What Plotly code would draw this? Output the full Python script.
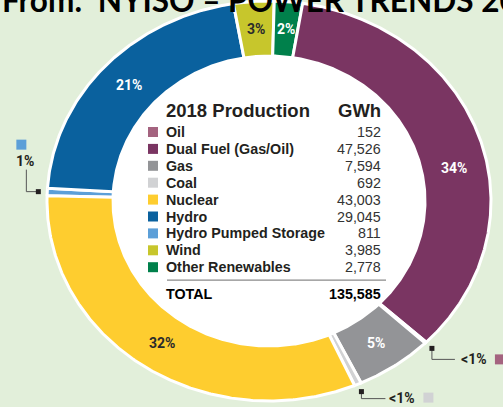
import numpy as np
import plotly.graph_objects as go

# ---------------- data ----------------
categories = ["Oil", "Dual Fuel (Gas/Oil)", "Gas", "Coal", "Nuclear", "Hydro",
              "Hydro Pumped Storage", "Wind", "Other Renewables"]
gwh = [152, 47526, 7594, 692, 43003, 29045, 811, 3985, 2778]
pct_labels = ["<1%", "34%", "5%", "<1%", "32%", "21%", "1%", "3%", "2%"]
ring_order = ["Hydro Pumped Storage", "Hydro", "Wind", "Other Renewables",
              "Dual Fuel (Gas/Oil)", "Oil", "Gas", "Coal", "Nuclear"]
callout_categories = ["Oil", "Coal", "Hydro Pumped Storage"]
table_header = ["2018 Production", "GWh"]
total_label = "TOTAL"
total_gwh = 135585
title_text = "From:\u00a0 NYISO \u2013 POWER TRENDS 2018"

# ---------------- style ----------------
colors = {
    "Oil": "#a4637f", "Dual Fuel (Gas/Oil)": "#7a3562", "Gas": "#939497",
    "Coal": "#d1d2d4", "Nuclear": "#fecd2f", "Hydro": "#0a619e",
    "Hydro Pumped Storage": "#5c9fd8", "Wind": "#c7c62c",
    "Other Renewables": "#00804b",
}
label_colors = {"Nuclear": "#2b2b2b", "Wind": "#2b2b2b"}
label_shift = {"Dual Fuel (Gas/Oil)": 7}
label_radius = {"Wind": 1.0, "Other Renewables": 1.0}
BG = "#e2efda"
INK = "#231f20"
TFONT = "Liberation Sans"
W, H = 503, 407
CX, CY = 269, 201
RXO, RYO = 222, 200
RXI, RYI = 156, 145
START = 271.5
callout_style = {
    "Oil": dict(path=[(0, 0), (0, 11), (23, 11)], text=(28, 11, "left"), sw=(68, 11)),
    "Coal": dict(path=[(0, 0), (0, 7), (24, 7)], text=(27, 6, "left"), sw=(67, 6)),
    "Hydro Pumped Storage": dict(path=[(0, 0), (-12, 0), (-12, -22)], text=(-13, -31, "center"), sw=(-17, -47)),
}

total = sum(gwh)
val = dict(zip(categories, gwh))
pct = dict(zip(categories, pct_labels))

def ell(theta, rx, ry):
    t = np.radians(theta)
    return CX + rx * np.sin(t), CY - ry * np.cos(t)

fig = go.Figure()

t = np.linspace(0, 360, 361)
hx, hy = ell(t, RXO, RYO)
fig.add_trace(go.Scatter(x=hx, y=hy, fill="toself", fillcolor="white",
                         line=dict(color="white", width=0), mode="lines",
                         hoverinfo="skip", showlegend=False))

angles = {}
a = START
for cat in ring_order:
    span = 360.0 * val[cat] / total
    a0, a1 = a, a + span
    angles[cat] = (a0, a1)
    n = max(2, int(span * 2) + 2)
    th = np.linspace(a0, a1, n)
    ox, oy = ell(th, RXO, RYO)
    ix, iy = ell(th[::-1], RXI, RYI)
    xs = np.concatenate([ox, ix, ox[:1]])
    ys = np.concatenate([oy, iy, oy[:1]])
    fig.add_trace(go.Scatter(x=xs, y=ys, fill="toself", fillcolor=colors[cat],
                             mode="lines", line=dict(color="white", width=3),
                             name=cat, hoveron="fills",
                             text=f"{cat}: {val[cat]:,} GWh", hoverinfo="text",
                             showlegend=False))
    a = a1

annotations = []

def ann(x, y, text, size, color, xanchor="left", family=TFONT, **kw):
    d = dict(x=x, y=y, text=text, showarrow=False, borderpad=0,
             font=dict(family=family, size=size, color=color),
             xanchor=xanchor, yanchor="middle")
    d.update(kw)
    annotations.append(d)

for cat in ring_order:
    if cat in callout_categories:
        continue
    a0, a1 = angles[cat]
    mid = (a0 + a1) / 2 + label_shift.get(cat, 0)
    f = label_radius.get(cat, 1.0)
    lx, ly = ell(mid, f * (RXO + RXI) / 2, f * (RYO + RYI) / 2)
    ann(lx, ly, f"<b>{pct[cat]}</b>", 14, label_colors.get(cat, "white"), "center", "Roboto")

for cat in callout_categories:
    a0, a1 = angles[cat]
    mid = (a0 + a1) / 2
    mx, my = ell(mid, RXO * 1.04, RYO * 1.04)
    st = callout_style[cat]
    px = [mx + dx for dx, dy in st["path"]]
    py = [my + dy for dx, dy in st["path"]]
    fig.add_trace(go.Scatter(x=px, y=py, mode="lines", line=dict(color="#555555", width=1),
                             hoverinfo="skip", showlegend=False))
    fig.add_trace(go.Scatter(x=[mx], y=[my], mode="markers",
                             marker=dict(symbol="square", size=5, color=INK),
                             hoverinfo="skip", showlegend=False))
    fig.add_trace(go.Scatter(x=[mx + st["sw"][0]], y=[my + st["sw"][1]], mode="markers",
                             marker=dict(symbol="square", size=10, color=colors[cat]),
                             hoverinfo="skip", showlegend=False))
    tx, ty, anc = st["text"]
    ann(mx + tx, my + ty, f"<b>{pct[cat]}</b>", 14, INK, anc, "Roboto")

NAME_X, VAL_X, SW_X = 165, 382, 153
HEAD_Y, ROW0, STEP = 110, 132, 16.9
ann(NAME_X, HEAD_Y, f"<b>{table_header[0]}</b>", 18.5, INK)
ann(VAL_X, HEAD_Y, f"<b>{table_header[1]}</b>", 18.5, INK, "right")
row_y = [ROW0 + i * STEP for i in range(len(categories))]
for cat, v, y in zip(categories, gwh, row_y):
    ann(NAME_X, y, f"<b>{cat}</b>", 14.3, INK)
    ann(VAL_X, y, f"{v:,}", 14.3, "#333333", "right")
fig.add_trace(go.Scatter(x=[SW_X] * len(categories), y=row_y, mode="markers",
                         marker=dict(symbol="square", size=10,
                                     color=[colors[c] for c in categories]),
                         hoverinfo="skip", showlegend=False))
LINE_Y = row_y[-1] + 13
TOT_Y = LINE_Y + 14
fig.add_trace(go.Scatter(x=[NAME_X + 2, VAL_X + 4], y=[LINE_Y, LINE_Y], mode="lines",
                         line=dict(color="#8a8a8a", width=1.2), hoverinfo="skip", showlegend=False))
ann(NAME_X, TOT_Y, f"<b>{total_label}</b>", 14.3, "black")
ann(VAL_X, TOT_Y, f"<b>{total_gwh:,}</b>", 14.3, "black", "right")

annotations.append(dict(x=0, y=1 - 20.6 / H, xref="paper", yref="paper",
                        text=f"<b>{title_text}</b>", showarrow=False,
                        font=dict(family="Lato", size=31.5, color="black"),
                        xanchor="left", yanchor="bottom"))

fig.update_layout(
    width=W, height=H, margin=dict(l=0, r=0, t=0, b=0),
    paper_bgcolor=BG, plot_bgcolor=BG, showlegend=False,
    xaxis=dict(range=[0, W], visible=False, fixedrange=True),
    yaxis=dict(range=[H, 0], visible=False, fixedrange=True),
    annotations=annotations,
)
fig.write_html("out.html", config={"displayModeBar": False},
               post_script="document.body.style.margin='0';document.body.style.overflow='hidden';")
